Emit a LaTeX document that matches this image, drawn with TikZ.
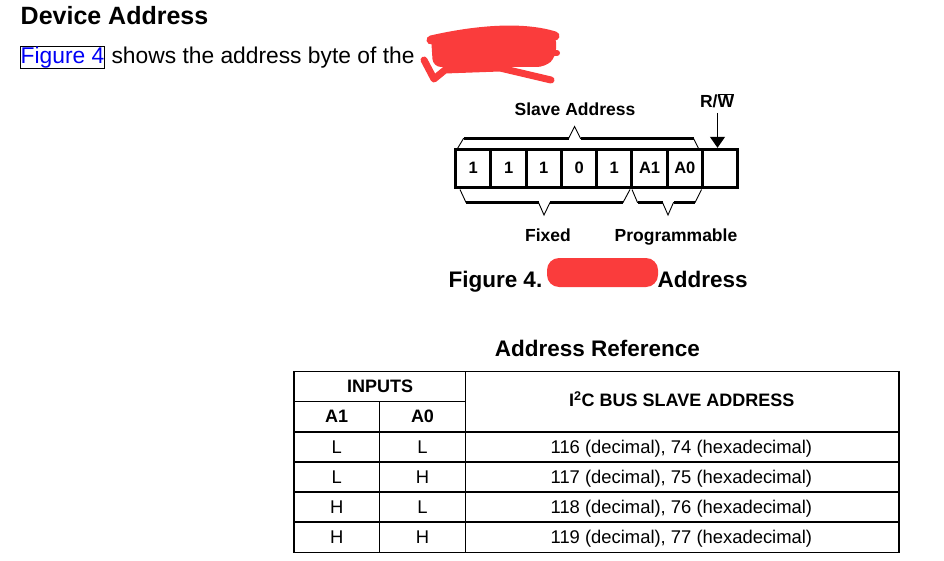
\documentclass[tikz,border=0pt]{standalone}
\usepackage{fontspec}
\setmainfont{Liberation Sans}
\usetikzlibrary{arrows.meta}
\definecolor{scribble}{RGB}{250,60,60}
\definecolor{linkblue}{RGB}{0,0,245}

\begin{document}
\begin{tikzpicture}[x=1pt, y=-1pt,
  bitcell/.style={draw, line width=3pt, minimum width=35.25pt, minimum height=38pt, inner sep=0pt, font=\bfseries\fontsize{16.5}{20}\selectfont},
  bracethin/.style={line width=0.9pt},
  bracethick/.style={line width=3pt},
  regtext/.style={anchor=base, inner sep=0pt, font=\bfseries\fontsize{17.5}{21}\selectfont},
  tableline/.style={line width=1.3pt},
  headtext/.style={anchor=base, inner sep=0pt, font=\bfseries\fontsize{18}{22}\selectfont},
  celltext/.style={anchor=base, inner sep=0pt, font=\fontsize{18.4}{22}\selectfont}]
\useasboundingbox (0,0) rectangle (944,561);

\node[anchor=base west, inner sep=0pt, font=\bfseries\fontsize{25}{30}\selectfont] (device address) at (20.5,25) {Device Address};

\node[anchor=base west, draw, line width=0.8pt, text=linkblue, inner xsep=0.3pt, inner ysep=2pt, text height=14.8pt, text depth=3pt, font=\fontsize{22.8}{27}\selectfont] (figure ref) at (20,63.3) {Figure 4};
\node[anchor=base west, inner sep=0pt, font=\fontsize{22.8}{27}\selectfont] (intro text) at (figure ref.base east) {~shows the address byte of the};

\fill[scribble, rounded corners=8pt] (431,37) -- (513,28) -- (556,34) -- (556,57) -- (545,67) -- (433,67) -- cycle;
\draw[scribble, line width=9pt, line cap=round, line join=round] (431,40) .. controls (470,31) and (520,25) .. (555,36);
\draw[scribble, line width=7pt, line cap=round, line join=round] (424,60) -- (434,79) -- (445,70) -- (500,68) -- (551,80);
\draw[scribble, line width=6pt, line cap=round] (540,53) -- (557,53);

\node[regtext] (slave address) at (575,116) {Slave Address};
\node[regtext] (rw) at (717,107.5) {R/$\overline{\mbox{W}}$};

\node[bitcell] (b1) at (473.3,168.3) {1};
\node[bitcell] (b2) at (508.6,168.3) {1};
\node[bitcell] (b3) at (543.8,168.3) {1};
\node[bitcell] (b4) at (579.1,168.3) {0};
\node[bitcell] (b5) at (614.3,168.3) {1};
\node[bitcell] (b6) at (649.6,168.3) {A1};
\node[bitcell] (b7) at (684.8,168.3) {A0};
\node[bitcell] (b8) at (720.1,168.3) {};

\coordinate (rw start) at (717.5,113);
\draw[-{Triangle[width=15pt,length=11pt]}, line width=1.2pt] (rw start) -- (rw start |- b8.north);

\draw[bracethin] (457.5,148.5) -- (463.5,138.5) -- (568.5,138.5) -- (574.5,126.5) -- (580.5,138.5) -- (693.5,138.5) -- (698.5,148.5);
\draw[bracethick] (463.5,138.5) -- (568.5,138.5) (580.5,138.5) -- (693.5,138.5);

\draw[bracethin] (460,189.5) -- (466,202.5) -- (538.5,202.5) -- (544,215) -- (550,202.5) -- (623,202.5) -- (630,189.5);
\draw[bracethick] (466,202.5) -- (538.5,202.5) (550,202.5) -- (623,202.5);
\draw[bracethin] (632,189.5) -- (637.5,202.5) -- (662.5,202.5) -- (668,215) -- (673.5,202.5) -- (695,202.5) -- (701.5,189.5);
\draw[bracethick] (637.5,202.5) -- (662.5,202.5) (673.5,202.5) -- (695,202.5);

\node[regtext] (fixed) at (548,241.7) {Fixed};
\node[regtext] (programmable) at (676,241.7) {Programmable};

\node[anchor=base west, inner sep=0pt, font=\bfseries\fontsize{22.5}{27}\selectfont] (caption figure) at (448.3,287) {Figure 4.};
\fill[scribble, rounded corners=12pt] (547,258) rectangle (658,287);
\node[anchor=base west, inner sep=0pt, font=\bfseries\fontsize{22.5}{27}\selectfont] (caption address) at (657.3,287) {Address};

\node[anchor=base, inner sep=0pt, font=\bfseries\fontsize{22.5}{27}\selectfont] (table title) at (597.5,356.7) {Address Reference};

\draw[tableline] (294,371.7) rectangle (899,552.3);
\draw[tableline] (294,401.7) -- (465.7,401.7);
\draw[tableline] (294,432) -- (899,432);
\draw[tableline] (294,462) -- (899,462);
\draw[tableline] (294,492) -- (899,492);
\draw[tableline] (294,522) -- (899,522);
\draw[tableline] (465.7,371.7) -- (465.7,552.3);
\draw[tableline] (379.3,401.7) -- (379.3,552.3);

\node[headtext] (inputs) at (380,392.5) {INPUTS};
\node[headtext] (head a1) at (336.7,422.5) {A1};
\node[headtext] (head a0) at (422.5,422.5) {A0};
\node[headtext] (head address) at (681.7,406.5) {I\textsuperscript{2}C BUS SLAVE ADDRESS};

\node[celltext] (a1 r1) at (336.7,453) {L};
\node[celltext] (a0 r1) at (422.5,453) {L};
\node[celltext, anchor=base east] (addr r1) at (812.3,453) {116 (decimal), 74 (hexadecimal)};
\node[celltext] (a1 r2) at (336.7,483) {L};
\node[celltext] (a0 r2) at (422.5,483) {H};
\node[celltext, anchor=base east] (addr r2) at (812.3,483) {117 (decimal), 75 (hexadecimal)};
\node[celltext] (a1 r3) at (336.7,513) {H};
\node[celltext] (a0 r3) at (422.5,513) {L};
\node[celltext, anchor=base east] (addr r3) at (812.3,513) {118 (decimal), 76 (hexadecimal)};
\node[celltext] (a1 r4) at (336.7,543) {H};
\node[celltext] (a0 r4) at (422.5,543) {H};
\node[celltext, anchor=base east] (addr r4) at (812.3,543) {119 (decimal), 77 (hexadecimal)};
\end{tikzpicture}
\end{document}
